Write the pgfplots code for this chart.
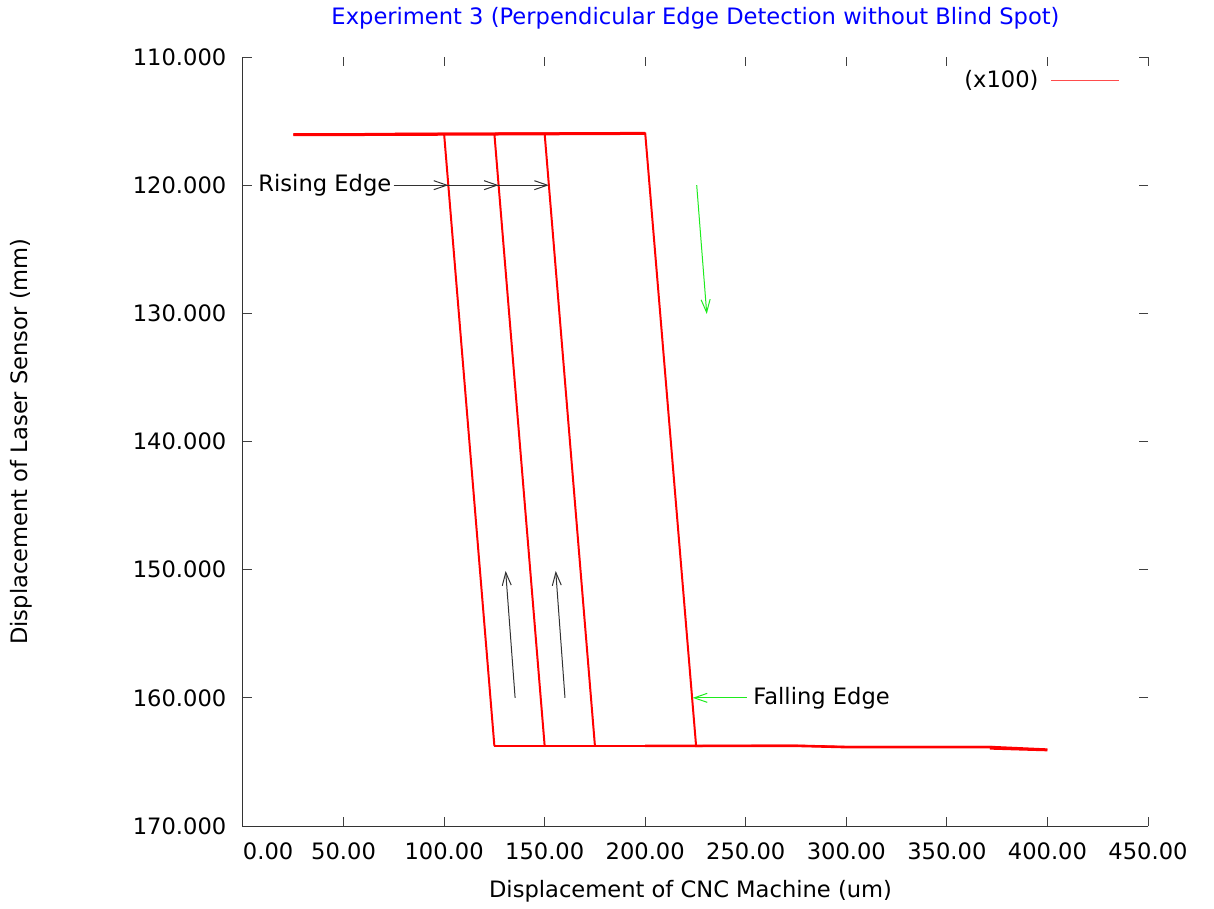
\documentclass[border=0pt]{standalone}
\usepackage{pgfplots}
\pgfplotsset{compat=1.18}
\usepackage{fontspec}
\setmainfont{DejaVu Sans}
\usetikzlibrary{arrows.meta}
\definecolor{gpgreen}{RGB}{30,235,30}
\definecolor{gpgray}{RGB}{50,50,50}
\newcommand\gf{\fontsize{11.3pt}{13.5pt}\selectfont}
\begin{document}
\begin{tikzpicture}
\begin{axis}[
  name=ax,
  scale only axis, width=452.5pt, height=384.5pt,
  xmin=0, xmax=450, ymin=110, ymax=170, y dir=reverse,
  xtick={0,50,100,150,200,250,300,350,400,450},
  xticklabels={\makebox[0pt][l]{0.00},50.00,100.00,150.00,200.00,250.00,300.00,350.00,400.00,450.00},
  ytick={110,120,130,140,150,160,170},
  yticklabels={110.000,120.000,130.000,140.000,150.000,160.000,170.000},
  tick align=inside, major tick length=4.5pt,
  tick style={black!75, line width=0.5pt},
  axis line style={draw=none},
  xticklabel style={font=\gf, anchor=north, yshift=-5pt},
  yticklabel style={font=\gf, anchor=east, xshift=-4.8pt},
  title={Experiment 3 (Perpendicular Edge Detection without Blind Spot)},
  every axis title/.style={font=\gf, text=blue, at={(0.5,1.0429)}, anchor=base},
  xlabel={Displacement of CNC Machine (um)},
  xlabel style={font=\gf, at={(0.4945,-0.0936)}, anchor=base},
  ylabel={Displacement of Laser Sensor (mm)},
  ylabel style={font=\gf, at={(-0.2376,0.5)}, anchor=base},
  legend style={font=\gf, draw=none, fill=none, at={(0.969,0.970)}, anchor=east, inner sep=0pt, column sep=4pt},
  legend cell align=right,
  legend plot pos=right,
  clip=false,
]
% thin rising edges and bottom segment
\addplot[red, line width=1.0pt, forget plot] coordinates {(100,116.0) (125,163.76)};
\addplot[red, line width=1.0pt, forget plot] coordinates {(125,116.0) (150,163.76)};
\addplot[red, line width=1.0pt, forget plot] coordinates {(150,116.0) (175,163.76)};
\addplot[red, line width=0.6pt, forget plot] coordinates {(125,163.76) (175,163.76) (225,163.76)};
% main trace
\addplot[red, line width=1.0pt,
  legend image code/.code={\draw[red!70, line width=0.5pt] (0pt,0pt) -- (34pt,0pt);}]
  coordinates {(25,116.06) (76,116.05) (76,115.98) (200,115.95) (225.3,163.76)
               (275,163.72) (300,163.82) (372,163.82) (400,164.02)};
\addlegendentry{(x100)}
% thicker overplotted portions
\addplot[red, line width=1.5pt, forget plot] coordinates {(25,116.06) (76,116.04) (200,115.96)};
\addplot[red, line width=1.2pt, forget plot] coordinates {(200,163.75) (275,163.75) (300,163.85) (372,163.85) (372,163.95) (400,164.08)};
% axis lines and annotations
\draw[black!80, line width=0.5pt] (axis cs:0,110) -- (axis cs:0,170) -- (axis cs:450,170);
\node[anchor=west, inner sep=0pt, font=\gf] at (axis cs:7.5,120) {Rising Edge};
\draw[gpgray, line width=0.5pt, -{Straight Barb[length=6.5pt,width=4.5pt]}] (axis cs:75,120) -- (axis cs:102.1,120);
\draw[gpgray, line width=0.5pt, -{Straight Barb[length=6.5pt,width=4.5pt]}] (axis cs:75,120) -- (axis cs:127.1,120);
\draw[gpgray, line width=0.5pt, -{Straight Barb[length=6.5pt,width=4.5pt]}] (axis cs:75,120) -- (axis cs:152.1,120);
\draw[gpgray, line width=0.5pt, -{Straight Barb[length=6.5pt,width=4.5pt]}] (axis cs:135.3,160) -- (axis cs:130.6,150.1);
\draw[gpgray, line width=0.5pt, -{Straight Barb[length=6.5pt,width=4.5pt]}] (axis cs:160.1,160) -- (axis cs:155.5,150.1);
\draw[gpgreen, line width=0.5pt, -{Straight Barb[length=6.5pt,width=4.5pt]}] (axis cs:225.6,120) -- (axis cs:230.6,130.05);
\draw[gpgreen, line width=0.5pt, -{Straight Barb[length=6.5pt,width=4.5pt]}] (axis cs:250.4,160) -- (axis cs:223.6,160);
\node[anchor=west, inner sep=0pt, font=\gf] at (axis cs:253.6,160) {Falling Edge};
\end{axis}
\pgfresetboundingbox
\path ([shift={(-121.5pt,-41.5pt)}]ax.south west) rectangle ([shift={(33pt,28.5pt)}]ax.north east);
\end{tikzpicture}
\end{document}
